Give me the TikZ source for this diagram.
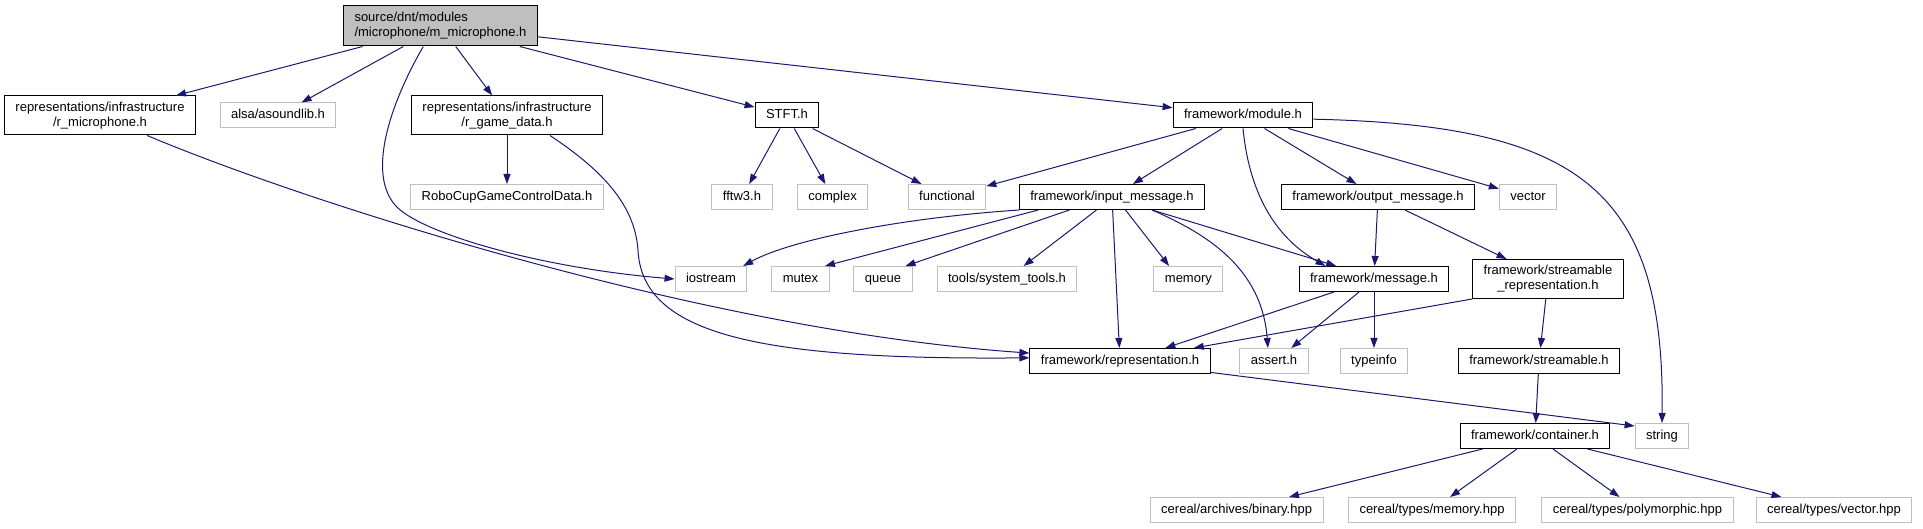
\documentclass[tikz,border=0pt]{standalone}
\usepackage{fontspec}
\setmainfont{Liberation Sans}
\usetikzlibrary{arrows.meta}

\definecolor{edgeblue}{HTML}{191970}
\definecolor{boxgrey}{HTML}{BFBFBF}

\begin{document}
\begin{tikzpicture}[x=1pt, y=-1pt,
    font=\fontsize{13}{15}\selectfont,
    file/.style={draw=black, line width=1pt, inner xsep=11pt, inner ysep=3pt,
        minimum height=25pt, text height=9.5pt, text depth=2.7pt},
    ext/.style={file, draw=boxgrey},
    twoline/.style={align=center, text height=, text depth=, minimum height=39pt},
    inc/.style={draw=edgeblue, line width=1pt, -{Triangle[length=10pt, width=7pt]}}]
    \useasboundingbox (0,0) rectangle (1923,529);

    \node[file, twoline, align=left, fill=boxgrey, minimum height=40pt] (mic) at (440.5,26)
        {source/dnt/modules\\/microphone/m\_microphone.h};

    \node[file, twoline] (rmic) at (100,115.5) {representations/infrastructure\\/r\_microphone.h};
    \node[ext] (alsa) at (278,115.5) {alsa/asoundlib.h};
    \node[file, twoline] (rgd) at (507,115.5) {representations/infrastructure\\/r\_game\_data.h};
    \node[file] (stft) at (787,115.5) {STFT.h};
    \node[file] (mod) at (1243,115.5) {framework/module.h};

    \node[ext] (robo) at (507,197) {RoboCupGameControlData.h};
    \node[ext] (fftw) at (742,197) {fftw3.h};
    \node[ext] (cplx) at (832.6,197) {complex};
    \node[ext] (func) at (947,197) {functional};
    \node[file] (im) at (1112,197) {framework/input\_message.h};
    \node[file] (om) at (1378,197) {framework/output\_message.h};
    \node[ext] (vec) at (1528,197) {vector};

    \node[ext] (ios) at (711,279) {iostream};
    \node[ext] (mutex) at (800.5,279) {mutex};
    \node[ext] (queue) at (883,279) {queue};
    \node[ext] (tools) at (1007,279) {tools/system\_tools.h};
    \node[ext] (mem) at (1188.4,279) {memory};
    \node[file] (msg) at (1374,279) {framework/message.h};
    \node[file, twoline] (srep) at (1548,279) {framework/streamable\\\_representation.h};

    \node[file] (rep) at (1120,361) {framework/representation.h};
    \node[ext] (asrt) at (1274,361) {assert.h};
    \node[ext] (tinfo) at (1374,361) {typeinfo};
    \node[file] (strm) at (1539,361) {framework/streamable.h};

    \node[file] (cont) at (1535,436) {framework/container.h};
    \node[ext] (str) at (1662,436) {string};

    \node[ext] (bin) at (1236.6,510) {cereal/archives/binary.hpp};
    \node[ext] (cmem) at (1432,510) {cereal/types/memory.hpp};
    \node[ext] (poly) at (1637.5,510) {cereal/types/polymorphic.hpp};
    \node[ext] (cvec) at (1834,510) {cereal/types/vector.hpp};

    \draw[inc] (mic) -- (rmic);
    \draw[inc] (mic) -- (alsa);
    \draw[inc] (mic.-130) .. controls (395,95) and (365,170) .. (395,205)
        .. controls (419,233) and (540,268) .. (ios.west);
    \draw[inc] (mic) -- (rgd);
    \draw[inc] (mic) -- (stft);
    \draw[inc] (mic) -- (mod);

    \draw[inc] (rmic.-23) .. controls (300,200) and (700,330) .. (rep.175);
    \draw[inc] (rgd) -- (robo);
    \draw[inc] (rgd.-25) .. controls (610,175) and (635,210) .. (638,250)
        .. controls (642,335) and (760,360) .. (rep.178);

    \draw[inc] (stft) -- (fftw);
    \draw[inc] (stft) -- (cplx);
    \draw[inc] (stft) -- (func);

    \draw[inc] (mod) -- (func);
    \draw[inc] (mod) -- (im);
    \draw[inc] (mod.south) .. controls (1250,200) and (1280,240) .. (msg.165);
    \draw[inc] (mod) -- (om);
    \draw[inc] (mod) -- (vec);
    \draw[inc] (mod.-3) .. controls (1580,125) and (1665,190) .. (str.north);

    \draw[inc] (im.south west) .. controls (900,218) and (790,240) .. (ios.22);
    \draw[inc] (im.-170) -- (mutex.28);
    \draw[inc] (im.-163) -- (queue.30);
    \draw[inc] (im.-140) -- (tools.38);
    \draw[inc] (im) -- (rep);
    \draw[inc] (im.-44) -- (mem.146);
    \draw[inc] (im.-18) .. controls (1210,235) and (1262,270) .. (asrt.115);
    \draw[inc] (im.-18) -- (msg.161);

    \draw[inc] (om) -- (msg);
    \draw[inc] (om) -- (srep);

    \draw[inc] (msg.-162) -- (rep.16);
    \draw[inc] (msg.-139) -- (asrt.37);
    \draw[inc] (msg) -- (tinfo);

    \draw[inc] (srep.south west) -- (rep.10);
    \draw[inc] (srep) -- (strm);
    \draw[inc] (strm) -- (cont);
    \draw[inc] (rep) -- (str.160);

    \draw[inc] (cont) -- (bin);
    \draw[inc] (cont) -- (cmem);
    \draw[inc] (cont) -- (poly);
    \draw[inc] (cont) -- (cvec);
\end{tikzpicture}
\end{document}
